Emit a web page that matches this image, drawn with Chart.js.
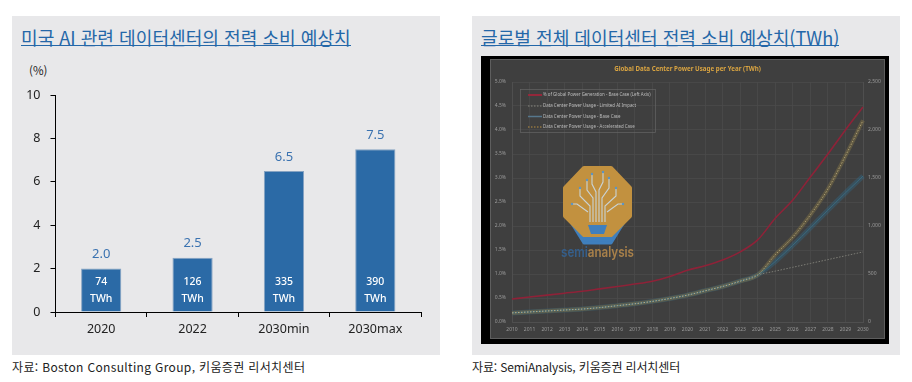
<!DOCTYPE html>
<html lang="ko">

<head>
    <meta charset="UTF-8">
    <title>Data center power</title>
    <script src="https://cdn.jsdelivr.net/npm/chart.js@4"></script>
    <style>
        html, body { margin: 0; padding: 0; background: #fff; overflow: hidden; }
        body { width: 912px; height: 382px; position: relative; font-family: "Noto Sans CJK KR", "Noto Sans", sans-serif; }
        .panel { position: absolute; top: 16px; width: 428px; height: 339px; background: #e8e8ea; }
        .title { position: absolute; top: 30px; font-size: 18.1px; line-height: 15px; color: #2467a8; border-bottom: 1px solid #2467a8; white-space: nowrap; }
        .source { position: absolute; top: 358px; font-size: 12px; line-height: 18px; color: #222; white-space: nowrap; }
        .unit { position: absolute; left: 29px; top: 62px; font-size: 11.5px; line-height: 16px; color: #222; }
        .frame { position: absolute; left: 481px; top: 56px; width: 408px; height: 288px; background: #000; }
        canvas { position: absolute; }
        #shareChart { left: 12px; top: 60px; }
        #powerChart { left: 490px; top: 59px; filter: blur(0.6px); }
        #logo { position: absolute; left: 555px; top: 160px; filter: blur(0.4px); }
    </style>
</head>

<body>
    <div class="panel" style="left: 12px;"></div>
    <div class="panel" style="left: 472px;"></div>
    <div class="title" style="left: 21px;">미국 AI 관련 데이터센터의 전력 소비 예상치</div>
    <div class="title" style="left: 481px;">글로벌 전체 데이터센터 전력 소비 예상치(TWh)</div>
    <div class="unit">(%)</div>
    <canvas id="shareChart" width="428" height="295"></canvas>

    <div class="frame"></div>
    <canvas id="powerChart" width="395" height="280"></canvas>
    <svg id="logo" width="90" height="102" viewBox="555 160 90 102">
        <path d="M566 214 L584 243 L611 243 L629 214 Z" fill="#3f7fbd" stroke="#3f7fbd" stroke-width="3" stroke-linejoin="round"/>
        <path d="M584 168 L611 168 L630 188 L630 216 L611 235 L584 235 L565 216 L565 188 Z" fill="#c2913f" stroke="#c2913f" stroke-width="4" stroke-linejoin="round"/>
        <g stroke="#c9d3d6" stroke-width="1.1" fill="none">
            <path d="M590 222 L590 206 L580 196 L580 188"/>
            <path d="M593 222 L593 198 L587 190 L587 180"/>
            <path d="M596 222 L596 192 L592 184 L592 174"/>
            <path d="M599 222 L599 190 L603 182 L603 172"/>
            <path d="M602 222 L602 198 L609 188 L609 178"/>
            <path d="M605 222 L605 206 L616 196 L616 188"/>
            <path d="M588 212 L577 204 L572 204"/>
            <path d="M607 212 L618 204 L623 204"/>
        </g>
        <g fill="#5b95c4">
            <circle cx="580" cy="188" r="1.2"/><circle cx="587" cy="180" r="1.2"/><circle cx="592" cy="174" r="1.2"/>
            <circle cx="603" cy="172" r="1.2"/><circle cx="609" cy="178" r="1.2"/><circle cx="616" cy="188" r="1.2"/>
            <circle cx="572" cy="204" r="1.2"/><circle cx="623" cy="204" r="1.2"/>
        </g>
        <path d="M588 225 L607 225 L604 234 L591 234 Z" fill="#3f7fbd"/>
        <text x="561" y="257" font-family="Inter, sans-serif" font-size="14.5" font-weight="600" textLength="73" lengthAdjust="spacingAndGlyphs"><tspan fill="#355f8c">semi</tspan><tspan fill="#a9814a">analysis</tspan></text>
    </svg>

    <div class="source" style="left: 12px; letter-spacing: 0.35px;">자료: Boston Consulting Group, 키움증권 리서치센터</div>
    <div class="source" style="left: 472px; letter-spacing: -0.14px;">자료: SemiAnalysis, 키움증권 리서치센터</div>

    <script>
        const shareCategories = ['2020', '2022', '2030min', '2030max'];
        const shareValues = [2.0, 2.5, 6.5, 7.5];
        const shareTwh = ['74', '126', '335', '390'];

        const years = ['2010', '2011', '2012', '2013', '2014', '2015', '2016', '2017', '2018', '2019', '2020',
            '2021', '2022', '2023', '2024', '2025', '2026', '2027', '2028', '2029', '2030'];
        const pctGeneration = [0.48, 0.52, 0.56, 0.60, 0.64, 0.69, 0.74, 0.79, 0.85, 0.95, 1.08,
            1.17, 1.29, 1.46, 1.71, 2.16, 2.54, 3.02, 3.50, 4.00, 4.48];
        const limitedAi = [95, 105, 115, 125, 135, 150, 170, 190, 215, 245, 280,
            325, 370, 425, 490, 530, 570, 610, 650, 690, 730];
        const baseCase = [95, 105, 115, 125, 135, 150, 170, 190, 215, 245, 280,
            325, 370, 425, 490, 630, 800, 980, 1165, 1345, 1520];
        const accelerated = [95, 105, 115, 125, 135, 150, 170, 190, 215, 245, 280,
            325, 370, 425, 490, 700, 885, 1115, 1385, 1730, 2100];

        const legendLabels = [
            '% of Global Power Generation - Base Case (Left Axis)',
            'Data Center Power Usage - Limited AI Impact',
            'Data Center Power Usage - Base Case',
            'Data Center Power Usage - Accelerated Case'
        ];

        // value on top of the bar, TWh text inside it
        const barLabels = {
            id: 'barLabels',
            afterDatasetsDraw(chart) {
                const ctx = chart.ctx;
                const bars = chart.getDatasetMeta(0).data;
                const bottom = chart.scales.y.bottom;
                ctx.save();
                ctx.textAlign = 'center';
                ctx.textBaseline = 'middle';
                bars.forEach((bar, i) => {
                    ctx.fillStyle = '#3a72b0';
                    ctx.font = '13px "Noto Sans", sans-serif';
                    ctx.fillText(shareValues[i].toFixed(1), bar.x, bar.y - 14);
                    ctx.fillStyle = '#fff';
                    ctx.font = '500 10.5px "Noto Sans", sans-serif';
                    ctx.fillText(shareTwh[i], bar.x, bottom - 30);
                    ctx.fillText('TWh', bar.x, bottom - 13);
                });
                ctx.restore();
            }
        };

        new Chart(document.getElementById('shareChart'), {
            type: 'bar',
            data: {
                labels: shareCategories,
                datasets: [{
                    data: shareValues,
                    backgroundColor: '#2b6aa6',
                    borderColor: '#86a3c2',
                    borderWidth: 1,
                    borderSkipped: 'bottom',
                    categoryPercentage: 1,
                    barPercentage: 0.44
                }]
            },
            options: {
                responsive: false,
                animation: false,
                layout: { padding: { top: 35, right: 19 } },
                plugins: { legend: { display: false }, tooltip: { enabled: false } },
                scales: {
                    x: {
                        border: { color: '#000', width: 1 },
                        grid: { color: '#000', drawOnChartArea: false, tickLength: 5 },
                        ticks: { color: '#222', font: { size: 12.5, family: '"Noto Sans", sans-serif' }, padding: 5, maxRotation: 0 },
                        afterFit(scale) { scale.height = 43; }
                    },
                    y: {
                        min: 0,
                        max: 10,
                        border: { color: '#000', width: 1 },
                        grid: { color: '#000', drawOnChartArea: false, tickLength: 5 },
                        ticks: { stepSize: 2, color: '#222', font: { size: 12.5, family: '"Noto Sans", sans-serif' }, padding: 10 },
                        afterFit(scale) { scale.width = 43.5; }
                    }
                }
            },
            plugins: [barLabels]
        });

        // legend box sits inside the plot like in the original
        const insideLegend = {
            id: 'insideLegend',
            afterDraw(chart) {
                const ctx = chart.ctx;
                const samples = [
                    { color: '#b0203a', width: 1.5, dash: [] },
                    { color: '#9a9a90', width: 0.8, dash: [1.5, 1.5] },
                    { color: '#56778c', width: 1.5, dash: [] },
                    { color: '#d9a441', width: 0.8, dash: [1.5, 1.5] }
                ];
                const rows = [36, 47, 57.5, 68];
                ctx.save();
                ctx.strokeStyle = '#666';
                ctx.lineWidth = 0.7;
                ctx.strokeRect(30.5, 30.5, 135, 43);
                ctx.textBaseline = 'middle';
                ctx.font = '4.4px "Noto Sans", sans-serif';
                legendLabels.forEach((label, i) => {
                    ctx.beginPath();
                    ctx.setLineDash(samples[i].dash);
                    ctx.strokeStyle = samples[i].color;
                    ctx.lineWidth = samples[i].width;
                    ctx.moveTo(38, rows[i]);
                    ctx.lineTo(52, rows[i]);
                    ctx.stroke();
                    ctx.fillStyle = '#bcbcbc';
                    ctx.fillText(label, 53, rows[i]);
                });
                ctx.restore();
            }
        };

        const darkBackground = {
            id: 'darkBackground',
            beforeDraw(chart) {
                const ctx = chart.ctx;
                ctx.save();
                ctx.fillStyle = '#3f3f3f';
                ctx.fillRect(0, 0, chart.width, chart.height);
                ctx.strokeStyle = '#5e5e5e';
                ctx.strokeRect(0.5, 0.5, chart.width - 1, chart.height - 1);
                ctx.restore();
            }
        };

        const lineDefaults = { pointRadius: 0, cubicInterpolationMode: 'monotone', fill: false };

        new Chart(document.getElementById('powerChart'), {
            type: 'line',
            data: {
                labels: years,
                // later datasets are painted first, so the order goes top line to glow
                datasets: [
                    { ...lineDefaults, data: pctGeneration, yAxisID: 'pct', borderColor: '#8e2238', borderWidth: 1.6 },
                    { ...lineDefaults, data: accelerated, yAxisID: 'twh', borderColor: '#cdbb84', borderWidth: 0.7, borderDash: [1.5, 1.5] },
                    { ...lineDefaults, data: limitedAi, yAxisID: 'twh', borderColor: '#85857d', borderWidth: 0.9, borderDash: [1.5, 1.5] },
                    { ...lineDefaults, data: baseCase, yAxisID: 'twh', borderColor: '#38697f', borderWidth: 1 },
                    { ...lineDefaults, data: accelerated, yAxisID: 'twh', borderColor: 'rgba(125,112,70,0.5)', borderWidth: 4 },
                    { ...lineDefaults, data: baseCase, yAxisID: 'twh', borderColor: 'rgba(50,105,135,0.4)', borderWidth: 5 }
                ]
            },
            options: {
                responsive: false,
                animation: false,
                plugins: {
                    legend: { display: false },
                    tooltip: { enabled: false },
                    title: {
                        display: true,
                        text: 'Global Data Center Power Usage per Year (TWh)',
                        color: '#d9a441',
                        font: { size: 6.2, weight: 'bold', family: '"Noto Sans", sans-serif', lineHeight: 1 },
                        padding: { top: 7, bottom: 9.8 }
                    }
                },
                scales: {
                    x: {
                        border: { color: '#4f4f4f' },
                        grid: { color: '#4c4c4c', lineWidth: 0.7, drawTicks: false },
                        ticks: { color: '#9a9a9a', font: { size: 5, family: '"Noto Sans", sans-serif' }, padding: 5, maxRotation: 0, autoSkip: false },
                        afterFit(scale) { scale.height = 17; }
                    },
                    pct: {
                        position: 'left',
                        min: 0,
                        max: 5,
                        border: { color: '#4f4f4f' },
                        grid: { color: '#4c4c4c', lineWidth: 0.7, drawTicks: false },
                        ticks: { stepSize: 0.5, color: '#9a9a9a', font: { size: 5, family: '"Noto Sans", sans-serif' }, padding: 6, callback: v => v.toFixed(1) + '%' },
                        afterFit(scale) { scale.width = 22; }
                    },
                    twh: {
                        position: 'right',
                        min: 0,
                        max: 2500,
                        border: { color: '#4f4f4f' },
                        grid: { drawOnChartArea: false, drawTicks: false },
                        ticks: { stepSize: 500, color: '#9a9a9a', font: { size: 5, family: '"Noto Sans", sans-serif' }, padding: 5, callback: v => v.toLocaleString('en-US') },
                        afterFit(scale) { scale.width = 22; }
                    }
                }
            },
            plugins: [darkBackground, insideLegend]
        });
    </script>
</body>

</html>
